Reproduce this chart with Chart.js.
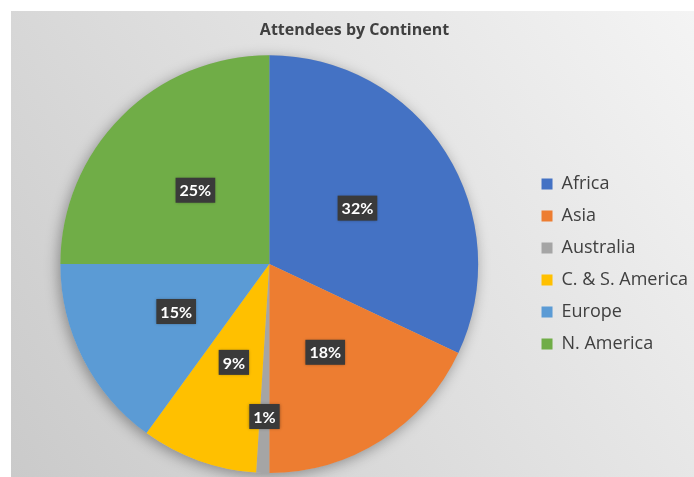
<!DOCTYPE html>
<html>
<head>
<meta charset="utf-8">
<title>Attendees by Continent</title>
<script src="https://cdn.jsdelivr.net/npm/chart.js@4/dist/chart.umd.min.js"></script>
<style>
  html, body { margin: 0; padding: 0; background: #ffffff; }
  #wrap { width: 694px; height: 477px; }
</style>
</head>
<body>
<div id="wrap"><canvas id="pieChart" width="694" height="477"></canvas></div>
<script>
// attendee share per continent, in percent
const continents = ['Africa', 'Asia', 'Australia', 'C. & S. America', 'Europe', 'N. America'];
const shares = [32, 18, 1, 9, 15, 25];
const sliceColors = ['#4472c4', '#ed7d31', '#a5a5a5', '#ffc000', '#5b9bd5', '#70ad47'];

const TEXT_FONT = "'Open Sans', Lato, 'DejaVu Sans', sans-serif";
const LABEL_FONT = "Lato, 'Open Sans', 'DejaVu Sans', sans-serif";

// grey panel with a diagonal gradient behind the chart
const panelBackground = {
    id: 'panelBackground',
    beforeDraw(chart) {
        const ctx = chart.ctx;
        const w = chart.width, h = chart.height;
        ctx.save();
        ctx.fillStyle = '#ffffff';
        ctx.fillRect(0, 0, w, h);
        const g = ctx.createLinearGradient(w, 11, 11, h);
        g.addColorStop(0, '#f4f4f4');
        g.addColorStop(1, '#cacaca');
        ctx.fillStyle = g;
        ctx.fillRect(11, 11, w - 11, h - 11);
        ctx.restore();
    }
};

// soft shadow under the whole pie
const pieShadow = {
    id: 'pieShadow',
    beforeDatasetsDraw(chart) {
        const arc = chart.getDatasetMeta(0).data[0];
        if (!arc) return;
        const ctx = chart.ctx;
        ctx.save();
        ctx.shadowColor = 'rgba(0,0,0,0.35)';
        ctx.shadowBlur = 14;
        ctx.shadowOffsetX = -2;
        ctx.shadowOffsetY = 3;
        ctx.fillStyle = '#bbbbbb';
        ctx.beginPath();
        ctx.arc(arc.x, arc.y, arc.outerRadius, 0, Math.PI * 2);
        ctx.fill();
        ctx.restore();
    }
};

// percentage labels in dark boxes
const sliceLabels = {
    id: 'sliceLabels',
    afterDatasetsDraw(chart, args, opts) {
        const ctx = chart.ctx;
        const values = chart.data.datasets[0].data;
        ctx.save();
        ctx.font = 'bold 16px ' + LABEL_FONT;
        ctx.textAlign = 'center';
        ctx.textBaseline = 'middle';
        chart.getDatasetMeta(0).data.forEach((arc, i) => {
            const mid = (arc.startAngle + arc.endAngle) / 2;
            const frac = (opts.radius && opts.radius[i]) || 0.5;
            const r = arc.outerRadius * frac;
            const x = arc.x + Math.cos(mid) * r;
            const y = arc.y + Math.sin(mid) * r;
            const text = values[i] + '%';
            const tw = ctx.measureText(text).width;
            const bw = tw + 8, bh = 25;
            ctx.shadowColor = 'rgba(0,0,0,0.35)';
            ctx.shadowBlur = 3;
            ctx.fillStyle = '#3a3a3a';
            ctx.fillRect(x - bw / 2, y - bh / 2, bw, bh);
            ctx.shadowColor = 'transparent';
            ctx.fillStyle = '#ffffff';
            ctx.fillText(text, x, y + 1);
        });
        ctx.restore();
    }
};

function renderChart() {
    const canvas = document.getElementById('pieChart');
    new Chart(canvas.getContext('2d'), {
        type: 'pie',
        data: {
            labels: continents,
            datasets: [{
                data: shares,
                backgroundColor: sliceColors,
                borderWidth: 0
            }]
        },
        options: {
            responsive: false,
            animation: false,
            layout: { padding: { left: 11, right: -4, top: 0, bottom: 4 } },
            plugins: {
                title: {
                    display: true,
                    text: 'Attendees by Continent',
                    color: '#404040',
                    font: { family: TEXT_FONT, size: 16, weight: 'bold' },
                    padding: { top: 21, bottom: 15 }
                },
                legend: {
                    position: 'right',
                    fullSize: false,
                    labels: {
                        color: '#404040',
                        font: { family: TEXT_FONT, size: 18 },
                        boxWidth: 11,
                        boxHeight: 11,
                        padding: 14
                    }
                },
                tooltip: { enabled: false },
                sliceLabels: { radius: { 2: 0.73 } }
            }
        },
        plugins: [panelBackground, pieShadow, sliceLabels]
    });
}

window.addEventListener('DOMContentLoaded', renderChart);
</script>
</body>
</html>
